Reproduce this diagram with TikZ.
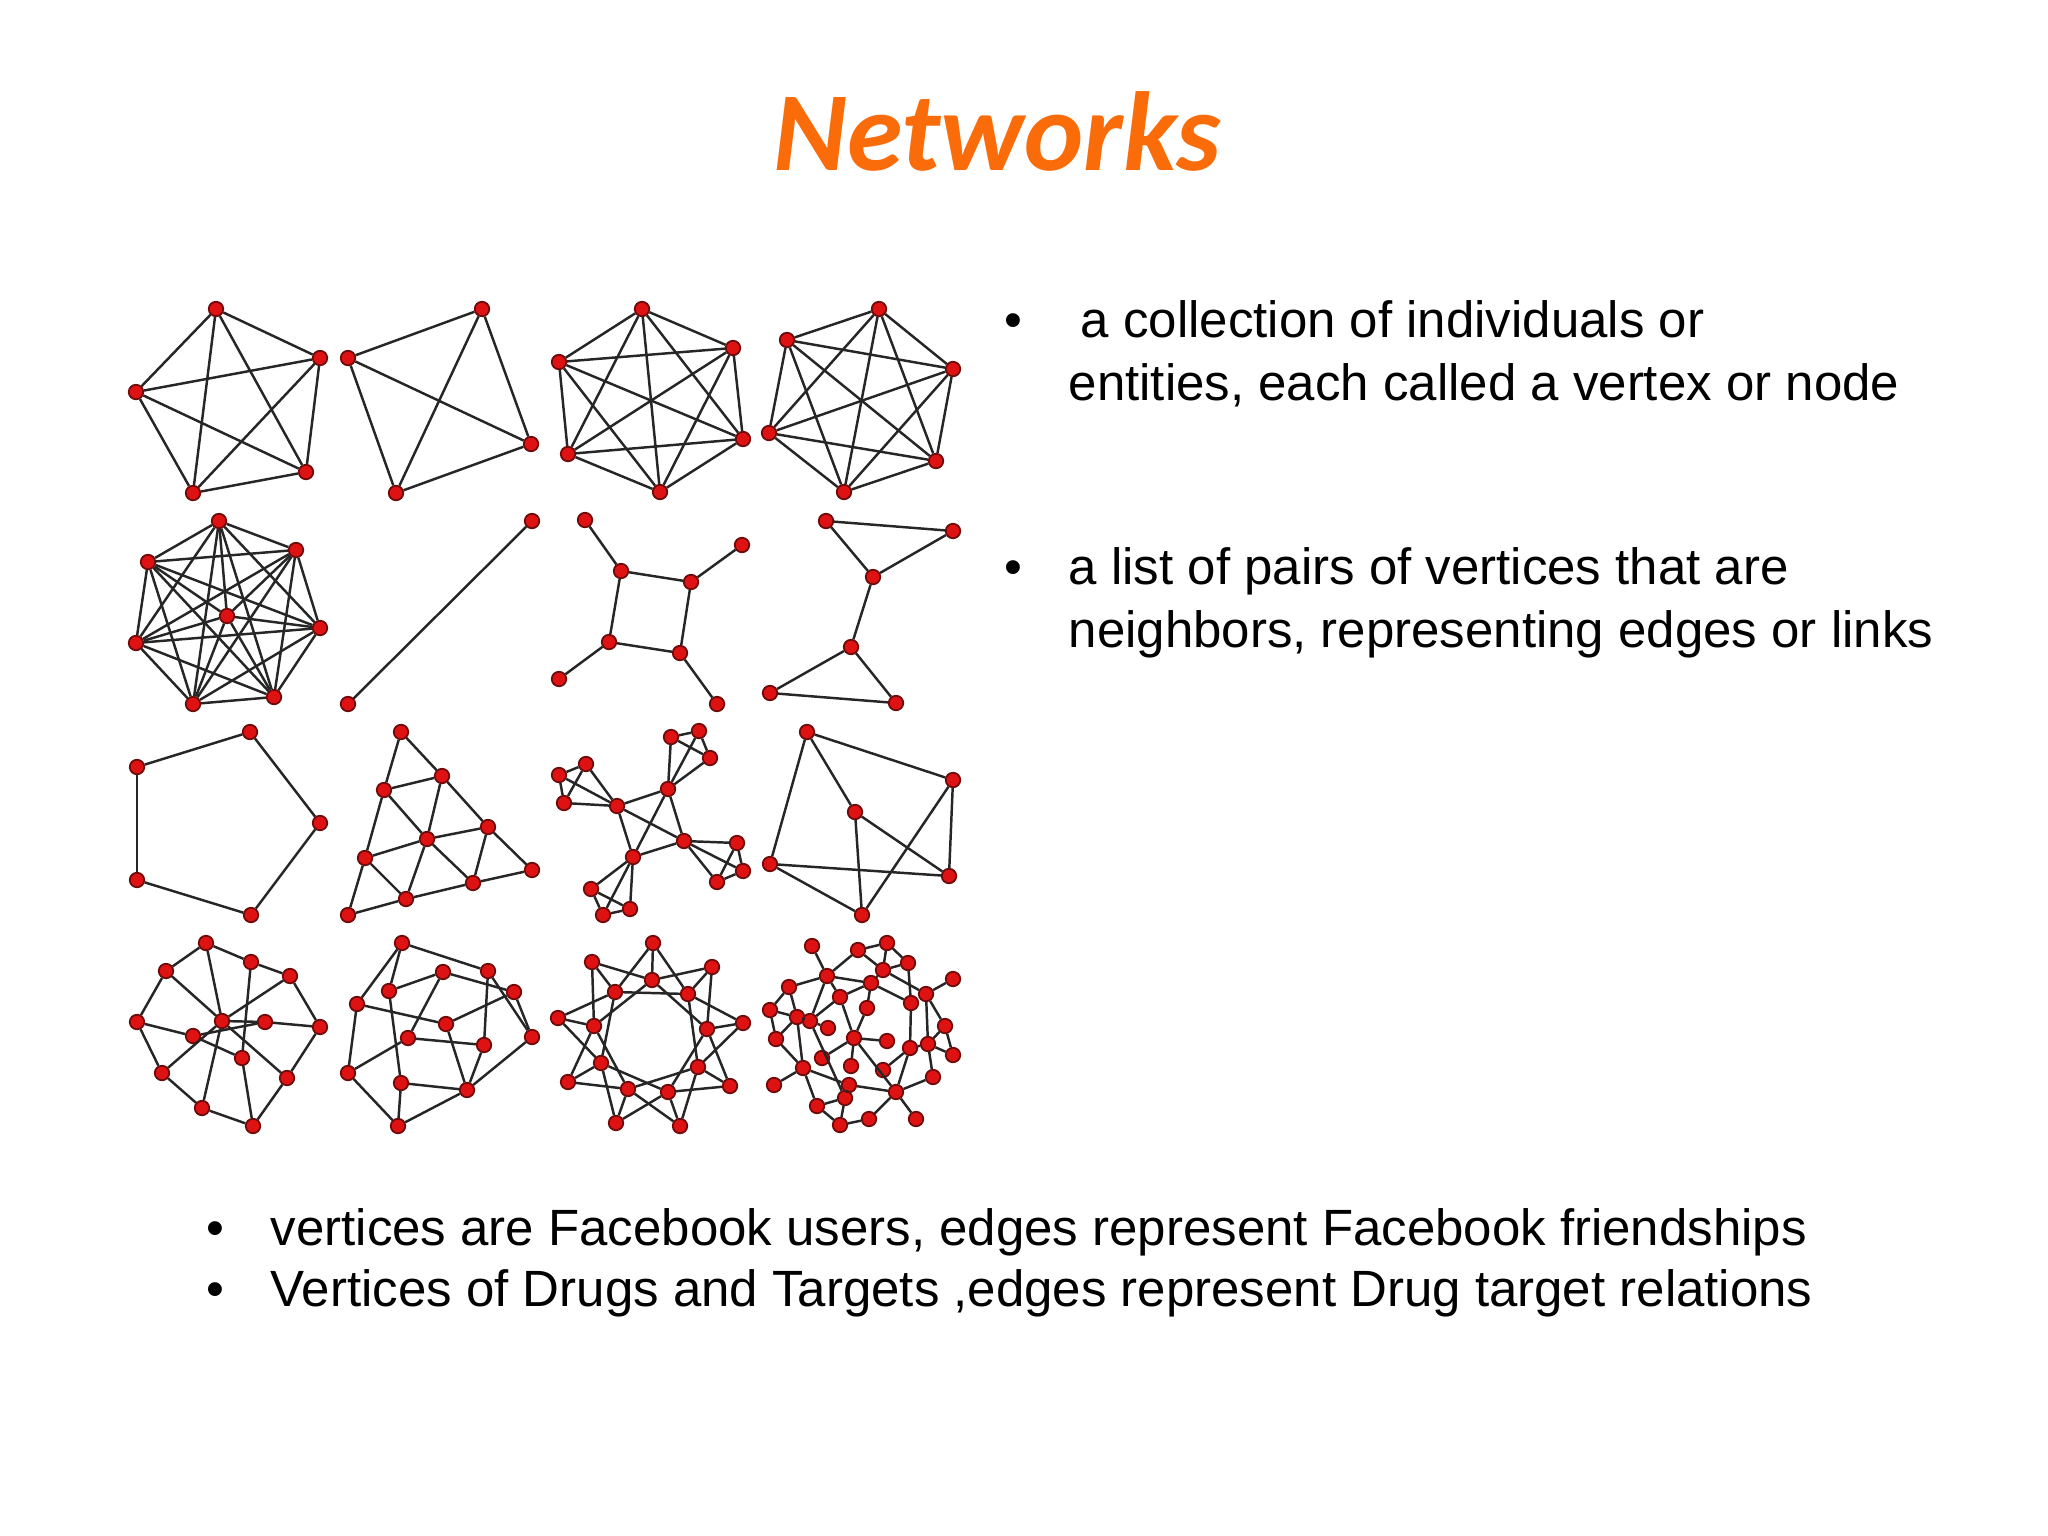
\documentclass[tikz,border=0pt]{standalone}
\usepackage{fontspec}
\setmainfont{Liberation Sans}
\newfontfamily\titlefont{Carlito}
\definecolor{titleorange}{RGB}{250,108,10}
\definecolor{vtxred}{RGB}{222,18,18}
\definecolor{vtxline}{RGB}{110,10,10}

\begin{document}
\begin{tikzpicture}[
  x=0.01cm, y=-0.01cm,
  vtx/.style={
    circle,
    fill=vtxred,
    draw=vtxline,
    line width=0.5pt,
    inner sep=0pt,
    minimum size=0.145cm
  },
  edge/.style={draw=black!85, line width=0.7pt},
  heading/.style={font=\titlefont\bfseries\itshape\fontsize{32}{38}\selectfont, text=titleorange, inner sep=0pt},
  bodytext/.style={font=\fontsize{14.5}{17.8}\selectfont, anchor=base west, inner sep=0pt}
]
\useasboundingbox (0,0) rectangle (2048,1536);

% Title
\node[heading, anchor=base] (title) at (997,170) {Networks};

% Row 1: complete graphs
\foreach \k/\x/\y in {1/216/309, 2/320/358, 3/136/392, 4/306/472, 5/193/493}
  \node[vtx] (ga\k) at (\x,\y) {};
\foreach \k/\x/\y in {1/482/309, 2/348/358, 3/531/444, 4/396/493}
  \node[vtx] (gb\k) at (\x,\y) {};
\foreach \k/\x/\y in {1/642/309, 2/733/348, 3/559/362, 4/743/439, 5/568/454, 6/660/492}
  \node[vtx] (gc\k) at (\x,\y) {};
\foreach \k/\x/\y in {1/879/309, 2/787/340, 3/953/369, 4/769/433, 5/936/461, 6/844/492}
  \node[vtx] (gd\k) at (\x,\y) {};
\foreach \i in {1,...,5}{\foreach \j in {1,...,5}{\ifnum\i<\j \draw[edge] (ga\i) -- (ga\j);\fi}}
\foreach \i in {1,...,4}{\foreach \j in {1,...,4}{\ifnum\i<\j \draw[edge] (gb\i) -- (gb\j);\fi}}
\foreach \i in {1,...,6}{\foreach \j in {1,...,6}{\ifnum\i<\j
  \draw[edge] (gc\i) -- (gc\j);
  \draw[edge] (gd\i) -- (gd\j);\fi}}

% Row 2
\foreach \k/\x/\y in {1/219/521, 2/296/550, 3/148/562, 4/227/616, 5/320/628, 6/136/643, 7/193/704, 8/274/697}
  \node[vtx] (ge\k) at (\x,\y) {};
\foreach \i in {1,...,8}{\foreach \j in {1,...,8}{\ifnum\i<\j \draw[edge] (ge\i) -- (ge\j);\fi}}
\node[vtx] (gf1) at (532,521) {};
\node[vtx] (gf2) at (348,704) {};
\draw[edge] (gf1) -- (gf2);
\foreach \k/\x/\y in {1/585/520, 2/742/545, 3/621/571, 4/691/582, 5/609/642, 6/680/653, 7/559/679, 8/717/704}
  \node[vtx] (gg\k) at (\x,\y) {};
\foreach \a/\b in {1/3, 2/4, 5/7, 6/8, 3/4, 4/6, 6/5, 5/3}
  \draw[edge] (gg\a) -- (gg\b);
\foreach \k/\x/\y in {1/826/521, 2/953/531, 3/873/577, 4/851/647, 5/770/693, 6/896/703}
  \node[vtx] (gh\k) at (\x,\y) {};
\foreach \a/\b in {1/2, 1/3, 2/3, 3/4, 4/5, 4/6, 5/6}
  \draw[edge] (gh\a) -- (gh\b);

% Row 3
\foreach \k/\x/\y in {1/250/732, 2/137/767, 3/137/880, 4/251/915, 5/320/823}
  \node[vtx] (gi\k) at (\x,\y) {};
\foreach \a/\b in {1/2, 2/3, 3/4, 4/5, 5/1}
  \draw[edge] (gi\a) -- (gi\b);
\foreach \k/\x/\y in {1/401/732, 2/442/776, 3/384/790, 4/488/827, 5/427/839, 6/365/858, 7/532/870, 8/473/883, 9/406/899, 10/348/915}
  \node[vtx] (gj\k) at (\x,\y) {};
\foreach \a/\b in {1/3, 1/2, 3/2, 2/4, 2/5, 3/5, 3/6, 4/5, 4/7, 4/8, 5/6, 5/8, 5/9, 6/9, 6/10, 7/8, 8/9, 9/10}
  \draw[edge] (gj\a) -- (gj\b);
\foreach \k/\x/\y in {1/668/789, 2/617/806, 3/684/841, 4/633/857,
    5/671/737, 6/699/731, 7/710/758, 8/559/775, 9/586/764, 10/564/803,
    11/737/843, 12/743/871, 13/717/882, 14/591/889, 15/630/909, 16/603/915}
  \node[vtx] (gk\k) at (\x,\y) {};
\foreach \a/\b in {1/2, 1/3, 1/4, 2/3, 2/4, 3/4,
    5/6, 6/7, 5/7, 1/5, 1/6, 1/7, 8/9, 9/10, 8/10, 2/8, 2/9, 2/10,
    11/12, 12/13, 11/13, 3/11, 3/12, 3/13, 14/15, 15/16, 14/16, 4/14, 4/15, 4/16}
  \draw[edge] (gk\a) -- (gk\b);
\foreach \k/\x/\y in {1/807/732, 2/953/780, 3/855/812, 4/770/864, 5/949/876, 6/862/915}
  \node[vtx] (gl\k) at (\x,\y) {};
\foreach \a/\b in {1/2, 1/3, 1/4, 2/5, 2/6, 3/5, 3/6, 4/5, 4/6}
  \draw[edge] (gl\a) -- (gl\b);

% Row 4
\foreach \k/\x/\y in {1/206/943, 2/251/962, 3/166/971, 4/290/976, 5/137/1022, 6/222/1021, 7/265/1022,
    8/320/1027, 9/193/1036, 10/242/1058, 11/162/1073, 12/287/1078, 13/202/1108, 14/253/1126}
  \node[vtx] (gm\k) at (\x,\y) {};
\foreach \a/\b in {1/2, 1/3, 1/6, 2/4, 2/10, 3/5, 3/6, 4/6, 4/8, 5/9, 5/11, 6/7, 6/12, 6/13,
    6/11, 7/8, 7/9, 8/12, 9/10, 10/14, 11/13, 12/14, 13/14}
  \draw[edge] (gm\a) -- (gm\b);
\foreach \k/\x/\y in {1/402/943, 2/443/972, 3/488/971, 4/389/991, 5/514/992, 6/357/1004, 7/446/1024,
    8/408/1038, 9/532/1037, 10/484/1045, 11/348/1073, 12/401/1083, 13/467/1090, 14/398/1126}
  \node[vtx] (gn\k) at (\x,\y) {};
\foreach \a/\b in {1/6, 1/4, 1/3, 4/2, 2/5, 3/9, 5/9, 3/10, 2/8, 4/12, 6/7, 7/5, 7/13, 6/11,
    8/11, 8/10, 10/13, 9/13, 12/13, 12/14, 11/14, 14/13}
  \draw[edge] (gn\a) -- (gn\b);
\foreach \k/\x/\y in {1/653/943, 2/712/967, 3/743/1023, 4/730/1086, 5/680/1126, 6/616/1123,
    7/568/1082, 8/558/1018, 9/592/962}
  \node[vtx] (go\k) at (\x,\y) {};
\foreach \k/\x/\y in {1/652/980, 2/688/994, 3/707/1029, 4/698/1067, 5/668/1092, 6/628/1089,
    7/601/1063, 8/594/1026, 9/615/992}
  \node[vtx] (gp\k) at (\x,\y) {};
\foreach \k in {1,...,9}{
  \pgfmathtruncatemacro\kp{mod(\k,9)+1}
  \pgfmathtruncatemacro\km{mod(\k+7,9)+1}
  \pgfmathtruncatemacro\kpp{mod(\k+1,9)+1}
  \draw[edge] (go\k) -- (gp\k);
  \draw[edge] (go\k) -- (gp\kp);
  \draw[edge] (go\k) -- (gp\km);
  \draw[edge] (gp\k) -- (gp\kpp);
}
\foreach \k/\x/\y in {1/812/946, 2/858/950, 3/887/943, 4/908/963, 5/883/970, 6/827/976, 7/953/979,
    8/789/987, 9/871/983, 10/926/994, 11/840/997, 12/911/1003, 13/867/1008, 14/770/1010,
    15/797/1017, 16/810/1021, 17/945/1026, 18/828/1028, 19/854/1038, 20/776/1039, 21/887/1041,
    22/910/1048, 23/928/1044, 24/953/1055, 25/822/1058, 26/851/1066, 27/883/1070, 28/803/1068,
    29/933/1077, 30/774/1085, 31/849/1085, 32/896/1092, 33/845/1098, 34/817/1106, 35/840/1125,
    36/869/1119, 37/916/1119}
  \node[vtx] (gq\k) at (\x,\y) {};
\foreach \a/\b in {1/6, 2/6, 2/3, 2/5, 3/5, 3/4, 4/5, 4/12, 5/10, 5/9, 6/8, 6/9, 6/11, 6/16,
    7/10, 8/14, 8/15, 9/11, 9/13, 9/12, 10/17, 10/23, 12/22, 14/15, 14/20, 15/16, 15/20,
    11/19, 11/16, 13/19, 16/18, 15/28, 19/21, 19/25, 19/26, 19/32, 20/28, 28/30, 28/31,
    28/34, 22/23, 22/27, 22/32, 23/24, 23/29, 17/24, 17/23, 29/32, 32/37, 32/36, 31/32,
    31/33, 33/34, 33/35, 34/35, 35/36, 16/33}
  \draw[edge] (gq\a) -- (gq\b);

% Bullet text, right
\node[bodytext] (dot1) at (1004,337) {•};
\node[bodytext] (def1a) at (1080,337) {a collection of individuals or};
\node[bodytext] (def1b) at (1068,400) {entities, each called a vertex or node};
\node[bodytext] (dot2) at (1004,584) {•};
\node[bodytext] (def2a) at (1068,584) {a list of pairs of vertices that are};
\node[bodytext] (def2b) at (1068,647) {neighbors, representing edges or links};

% Bullet text, bottom
\node[bodytext] (dot3) at (206,1245) {•};
\node[bodytext] (ex1) at (270,1245) {vertices are Facebook users, edges represent Facebook friendships};
\node[bodytext] (dot4) at (206,1306) {•};
\node[bodytext] (ex2) at (270,1306) {Vertices of Drugs and Targets ,edges represent Drug target relations};

\end{tikzpicture}
\end{document}
